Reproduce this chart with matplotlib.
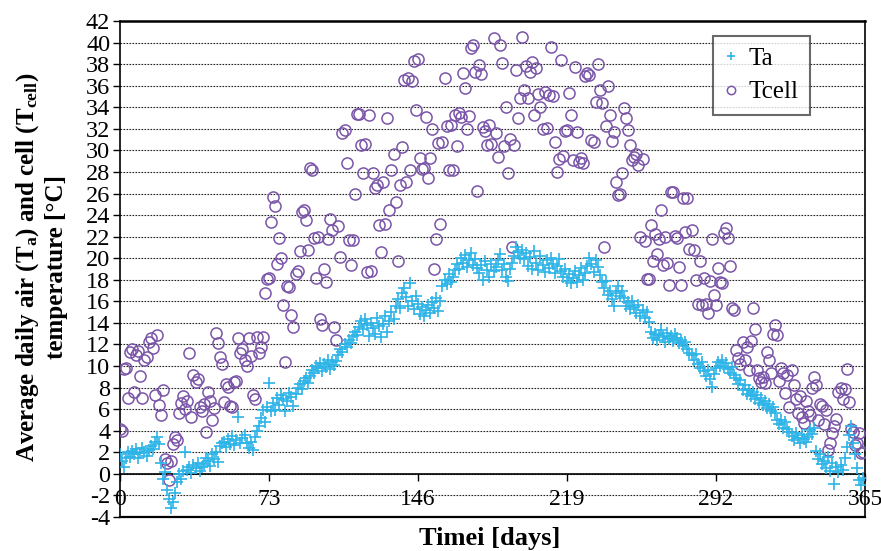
import matplotlib
matplotlib.use("Agg")
import matplotlib.pyplot as plt
import numpy as np

# daily mean air temperature Ta (deg C), day 0..364
ta = [1.8, 1.2, 0.6, 1.5, 2.0,
      1.6, 2.1, 1.8, 2.3, 1.5, 1.9, 2.4, 2.0, 1.7, 2.2, 2.6, 2.3,
      3.0, 3.4, 2.8, 1.0,
      -0.5, 0.2, -1.5, -2.3, -3.2, -2.6, -1.8, -0.8,
      0.0, -0.5, 0.3, 2.0, 0.4, 0.6, 0.1, 0.8, 0.5, 1.0, 0.3, 0.6,
      0.9, 1.5, 1.2, 0.7, 1.8, 1.4, 2.0, 1.1,
      2.6, 2.9, 3.0, 2.5, 3.2, 2.8, 3.5, 2.7, 3.1, 5.3, 2.9, 3.3, 3.6, 2.9,
      2.4, 3.0, 2.2, 3.4, 4.0,
      4.4, 5.2, 5.9, 4.8, 6.2, 8.4, 5.8, 6.6, 5.9,
      7.0, 6.4, 7.3, 6.9, 5.8, 6.8, 7.5, 7.1, 6.3, 7.4,
      8.0, 8.3, 7.9, 8.6, 8.9, 8.4, 9.1,
      9.6, 9.4, 10.0, 9.8, 10.3, 9.5, 10.2, 9.9, 10.6, 9.7, 10.4, 10.1, 10.5,
      11.0, 11.6, 11.3, 12.0, 11.8, 12.4, 12.1,
      12.8, 13.2, 12.9, 13.6, 14.2, 13.4, 14.4, 13.8, 12.8, 14.0,
      13.5, 13.0, 14.5, 13.7, 12.7, 13.9, 14.6, 13.2, 14.2, 15.0, 14.4, 15.6, 16.2, 15.4, 16.8,
      17.2, 16.4, 15.6, 17.7, 16.0, 15.3, 16.5, 15.8, 14.8, 15.5,
      14.6, 15.2, 15.7, 14.9, 15.9, 15.4, 16.3, 15.1, 16.0,
      17.4, 18.0, 17.6, 18.5, 17.8, 18.3, 18.9,
      19.5, 19.0, 20.0, 19.6, 20.3, 19.2, 19.8, 20.5, 19.4, 19.9, 19.1,
      18.6, 19.4, 18.0, 19.7, 18.9, 18.3, 19.5, 18.8, 19.2,
      19.8, 20.4, 18.9, 19.5, 18.3, 17.9, 19.0, 19.6,
      20.2, 21.0, 20.6, 20.0, 20.8, 19.9, 20.5,
      19.3, 20.1, 19.0, 20.7, 19.6, 18.9, 20.2, 19.4, 18.7, 19.8, 19.1, 20.0, 19.5, 18.6, 19.3, 19.9, 18.8,
      18.3, 19.0, 17.9, 18.5, 17.7, 18.2, 18.8, 17.8, 18.4, 19.1, 18.0, 18.6,
      19.3, 20.0, 19.5, 18.7, 19.8, 19.2, 18.4,
      17.8, 17.2, 17.9, 16.6, 17.0, 16.2, 15.6, 16.8, 17.4, 16.5,
      17.0, 16.3, 15.6, 15.9, 15.3, 16.0, 15.5, 14.9, 15.7, 14.6, 15.2, 14.5, 15.0, 14.1,
      13.2, 12.6, 13.0, 12.4, 12.9, 13.3, 12.7, 12.2, 13.1, 12.5, 12.8, 12.3, 13.0, 12.6, 12.1,
      12.4, 11.9, 12.2, 11.6, 11.2, 11.0,
      10.6, 11.1, 10.2, 9.8, 10.4, 9.5, 9.1, 9.6, 8.8, 8.1,
      9.3, 9.8, 10.4, 10.0, 10.6, 9.9, 10.3, 9.7, 9.4, 9.9, 9.2,
      8.9, 8.3, 8.7, 7.8, 8.2, 7.4,
      7.8, 7.2, 7.6, 6.9, 7.3, 6.6, 7.0, 6.4, 6.8, 6.1, 6.5, 5.8, 6.2, 5.6, 5.0,
      4.6, 5.0, 4.3, 4.8, 4.2, 3.9,
      3.5, 3.1, 3.8, 3.3, 2.9, 3.6, 3.2, 3.0, 3.4, 4.1, 3.7, 4.3,
      2.1, 1.4, 1.8, 0.9, 1.2, 0.5, 1.6, 0.3, 1.0, -0.9, 0.6, 0.2, 0.8, 0.4,
      1.5, 2.5, 3.6, 4.4, 2.9, 1.8, 0.5, -0.6, -1.0, -0.4]

# daily mean cell temperature Tcell (deg C), day 0..364
tcell = [4.2, 4.0, 9.7, 9.8, 7.0, 11.3, 11.6, 7.6, 11.0, 11.4, 9.1,
         7.0, 10.6, 10.8, 12.2, 12.6, 11.7, 7.3, 12.9, 6.4, 5.5,
         7.8, 1.4, 1.0, -0.6, 1.2, 2.8, 3.4, 3.1, 5.6, 6.6,
         7.2, 6.0, 6.8, 11.2, 5.3, 9.2, 8.5, 8.8, 6.2, 5.8, 6.5,
         3.9, 7.6, 6.8, 5.0, 6.1, 13.1, 12.1, 10.8, 10.2, 6.7, 8.3,
         8.1, 6.3, 6.2, 8.5, 8.6, 12.6, 11.2, 11.6, 10.6, 10.0,
         12.6, 10.9, 7.3, 6.9, 12.7, 11.2, 11.8, 12.7, 16.8, 18.1,
         18.2, 23.4, 25.7, 24.8, 19.5, 21.9, 20.0, 15.7, 10.4, 17.4,
         17.3, 14.7, 13.6, 18.5, 18.8, 20.7, 24.3, 24.5, 23.5, 20.8,
         28.4, 28.2, 21.9, 18.2, 22.0, 14.4, 13.8, 19.0, 17.8, 21.8,
         23.6, 22.6, 13.6, 12.4, 23.0, 20.1, 31.6, 31.9, 28.8, 21.7,
         19.4, 21.7, 26.0, 33.4, 33.4, 30.5, 27.9, 30.6, 18.7, 33.3,
         18.8, 27.9, 26.5, 26.8, 23.1, 20.6, 27.1, 23.2, 33.0, 24.5,
         28.2, 29.7, 25.2, 19.7, 26.8, 30.3, 36.5, 27.1, 36.7, 28.2,
         36.4, 38.3, 33.7, 38.5, 29.3, 28.3, 28.4, 33.1, 27.4, 29.3,
         32.0, 19.0, 21.8, 30.7, 23.2, 30.8, 36.7, 32.3, 28.2, 32.4,
         28.2, 33.3, 30.4, 33.5, 33.1, 37.2, 35.8, 32.0, 33.2, 39.5,
         39.8, 37.3, 26.2, 37.9, 37.1, 32.2, 31.8, 30.5, 32.4, 30.6,
         40.4, 31.6, 29.4, 39.8, 38.1, 30.4, 34.0, 27.9, 31.1, 21.0,
         30.5, 37.5, 33.0, 34.9, 40.5, 35.6, 37.8, 34.9, 37.3, 38.2,
         33.3, 37.6, 35.2, 34.0, 32.0, 35.4, 32.1, 35.1, 39.6, 35.0,
         30.8, 28.0, 29.2, 38.4, 29.5, 31.8, 31.9, 35.3, 33.3, 29.1,
         37.7, 31.7, 28.9, 29.3, 28.8, 36.9, 37.2, 37.0, 31.0, 30.8,
         34.5, 38.0, 35.6, 34.4, 21.0, 32.3, 36.0, 33.3, 30.9, 31.7,
         27.1, 25.9, 26.0, 27.9, 33.9, 33.0, 31.9, 30.5, 29.1, 29.4,
         29.7, 28.6, 22.0, 29.2, 21.6, 18.1, 18.1, 23.1, 19.7, 22.2,
         20.4, 21.8, 24.5, 19.4, 22.0, 19.6, 17.5, 26.1, 26.1, 22.1,
         21.9, 19.2, 17.5, 25.6, 22.4, 25.6, 20.9, 22.6, 20.8, 18.0,
         15.8, 19.7, 15.7, 18.2, 15.8, 14.9, 17.9, 21.8, 16.6, 15.7,
         19.1, 17.8, 17.7, 22.3, 22.8, 21.9, 19.3, 15.4, 15.2, 11.5,
         10.7, 10.2, 12.2, 10.6, 11.8, 9.6, 12.3, 15.4, 13.4, 9.6,
         8.9, 8.5, 9.0, 8.4, 11.3, 10.6, 9.4, 13.0, 13.8, 12.9,
         8.6, 9.8, 9.4, 7.5, 9.2, 6.2, 9.6, 8.2, 6.9, 5.6,
         7.2, 5.3, 4.7, 6.8, 5.8, 5.5, 8.0, 9.0, 8.2, 5.0,
         6.5, 6.3, 4.6, 5.9, 2.2, 2.9, 3.8, 4.4, 5.1, 7.6,
         8.0, 6.9, 7.9, 9.7, 6.7, 4.2, 3.9, 2.7, 2.9, 3.8, 1.9, 2.0]

xticks = [0, 73, 146, 219, 292, 365]
yticks = list(range(-4, 43, 2))

plt.rcParams['font.family'] = ['Liberation Serif', 'DejaVu Serif']
plt.rcParams['axes.unicode_minus'] = False
plt.rcParams['mathtext.fontset'] = 'custom'
plt.rcParams['mathtext.rm'] = 'Liberation Serif:bold'
plt.rcParams['mathtext.it'] = 'Liberation Serif:bold'
plt.rcParams['mathtext.bf'] = 'Liberation Serif:bold'

fig = plt.figure(figsize=(8.81, 5.51), dpi=100)
ax = fig.add_axes([120 / 881, 1 - 517 / 551, 745 / 881, 496 / 551])

days = np.arange(len(ta))
days_c = np.arange(len(tcell))

ax.plot(days, ta, linestyle='none', marker='+', markersize=8.5, markeredgewidth=1.2,
        color='#2DB4E8', label='Ta', zorder=4)
ax.plot(days_c, tcell, linestyle='none', marker='o', markersize=8, markerfacecolor='none',
        markeredgewidth=1.1, markeredgecolor='#7A55A8', label='Tcell', zorder=3)

ax.set_xlim(0, 365)
ax.set_ylim(-4, 42)

# dotted horizontal grid
for y in yticks[1:-1]:
    ax.axhline(y, color='#222222', linestyle=(0, (1.5, 1.2)), linewidth=0.8, zorder=1)

# x axis crosses at 0, plot frame bottom at -4
ax.spines['bottom'].set_position(('data', 0))
ax.spines['bottom'].set_linewidth(1.2)
ax.axhline(-4, color='black', linewidth=1.6, clip_on=False, zorder=5)
for s in ['left', 'right', 'top']:
    ax.spines[s].set_linewidth(1.2)
ax.spines['top'].set_linewidth(1.8)

ax.set_xticks(xticks)
ax.set_yticks(yticks)
ax.tick_params(axis='x', direction='out', length=5, width=1.0, pad=6, labelsize=17)
ax.tick_params(axis='y', direction='out', length=5, width=1.0, pad=2, labelsize=17.5)

fig.text(28 / 881, 1 - 267 / 551, 'Average daily air (T$_{a}$) and cell (T$_{cell}$)',
         rotation=90, ha='center', va='center', fontsize=18, fontweight='bold')
fig.text(56 / 881, 1 - 267 / 551, 'temperature [°C]',
         rotation=90, ha='center', va='center', fontsize=18, fontweight='bold')
fig.text(490 / 881, 1 - 539 / 551, 'Timei [days]', ha='center', va='center',
         fontsize=19, fontweight='bold')

leg = ax.legend(loc='upper right', bbox_to_anchor=((810 - 120) / 745, (517 - 36) / 496),
                fontsize=18, frameon=True, fancybox=False, edgecolor='#444444',
                markerscale=0.75, handlelength=0.6, handletextpad=0.4,
                borderpad=0.45, labelspacing=0.45, borderaxespad=0)
leg.get_frame().set_linewidth(1.5)

fig.savefig('out.png', dpi=100)
